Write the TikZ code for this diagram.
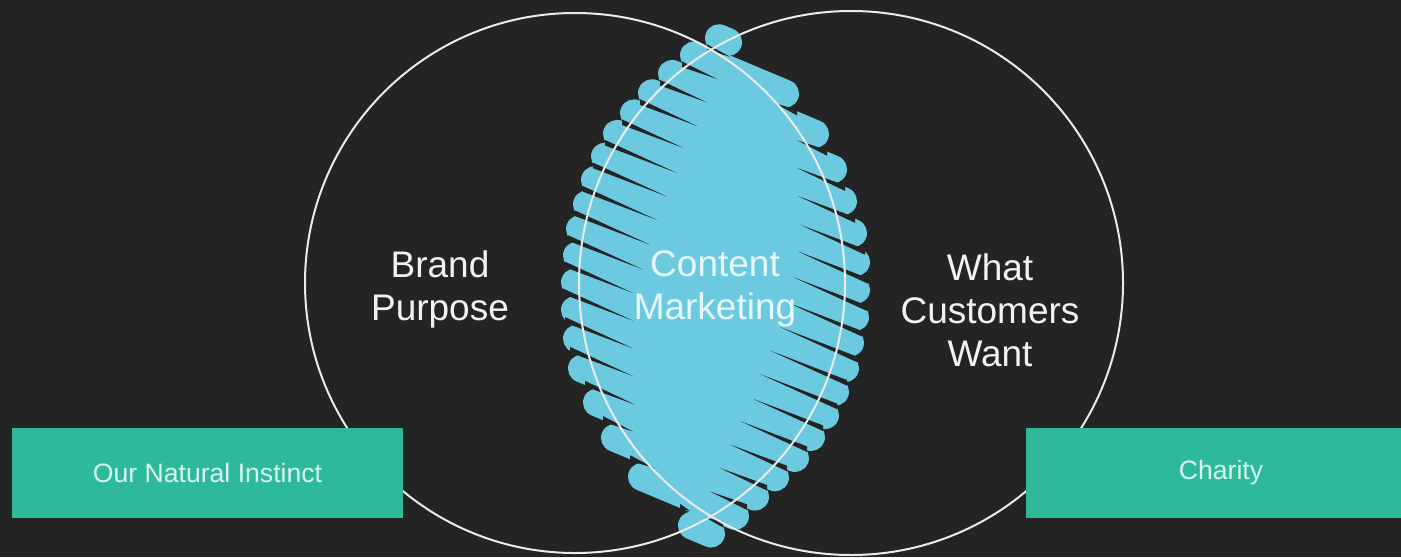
\documentclass[tikz,border=0pt]{standalone}
\usepackage{fontspec}
\setmainfont{Liberation Sans}
\definecolor{bg}{HTML}{242424}
\definecolor{lensblue}{HTML}{6CCAE0}
\definecolor{boxgreen}{HTML}{2EB99B}
\definecolor{boxtext}{HTML}{D6F7EF}
\definecolor{lenstext}{HTML}{E6F8FC}
\tikzset{
  brushstroke/.style={lensblue, line width=14pt, line cap=round},
  gapwedge/.style={fill=bg},
  ring/.style={draw=white!92!black, line width=1pt},
  biglabel/.style={text=white!95!black, align=center, font=\fontsize{18.5}{21.5}\selectfont, inner sep=0pt},
  greenbox/.style={fill=boxgreen, draw=none, minimum height=45pt, inner sep=0pt, text=boxtext, font=\fontsize{13.3}{16}\selectfont}
}
\begin{document}
\begin{tikzpicture}[x=0.5pt,y=-0.5pt]
\fill[bg] (0,0) rectangle (1401,557);
\useasboundingbox (0,0) rectangle (1401,557);

% brush strokes of the lens
\foreach \yz/\xl/\xr in {37.0/719/728, 64.7/694/785, 92.4/672/815, 120.1/652/833,
  147.8/634/843, 175.5/617/853, 203.2/605/856, 230.9/595/856, 258.6/587/855,
  286.3/580/850, 314.0/577/845, 341.7/575/835, 369.4/575/825, 397.1/577/811,
  424.8/582/795, 452.5/597/775, 480.2/615/755, 507.9/642/735, 535.6/692/711}
  \draw[brushstroke] (\xl,{\yz+0.42*(\xl-716)}) -- (\xr,{\yz+0.42*(\xr-716)});

% dark tapering gaps, left side
\foreach \yb/\xs/\xt in {50.85/707/730, 78.55/682/717, 106.25/660/707, 133.95/640/697,
  161.65/622/683, 189.35/605/677, 217.05/593/667, 244.75/583/657, 272.45/575/650,
  300.15/568/643, 327.85/565/633, 355.55/563/633, 383.25/565/633, 410.95/570/633,
  438.65/585/635, 466.35/603/633, 494.05/630/655, 521.75/680/690}
  \fill[gapwedge] (\xs,{\yb+0.42*(\xs-716)-2.8}) -- (\xs,{\yb+0.42*(\xs-716)+2.8})
     -- (\xt,{\yb+0.42*(\xt-716)}) -- cycle;

% dark tapering gaps, right side
\foreach \yb/\xs/\xt in {78.55/797/775, 106.25/827/797, 133.95/845/797,
  161.65/855/798, 189.35/865/800, 217.05/868/798, 244.75/867/793, 272.45/862/787,
  300.15/857/780, 327.85/847/770, 355.55/837/760, 383.25/823/753, 410.95/807/740,
  438.65/787/730, 466.35/767/720, 494.05/747/710, 521.75/723/705}
  \fill[gapwedge] (\xs,{\yb+0.42*(\xs-716)-2.8}) -- (\xs,{\yb+0.42*(\xs-716)+2.8})
     -- (\xt,{\yb+0.42*(\xt-716)}) -- cycle;

% circles
\draw[ring] (575,283) circle[radius=270];
\draw[ring] (851,283) circle[radius=272];

% green boxes
\node[greenbox, minimum width=195.5pt] (instinct) at (207.5,473) {Our Natural Instinct};
\node[greenbox, minimum width=195pt, text width=195pt, align=center] (charity) at (1221,473) {Charity};

% labels
\node[biglabel] (brand) at (440,289) {Brand\\Purpose};
\node[biglabel, text=lenstext] (content) at (715,289) {Content\\Marketing};
\node[biglabel] (want) at (990,310) {What\\Customers\\Want};
\end{tikzpicture}
\end{document}
